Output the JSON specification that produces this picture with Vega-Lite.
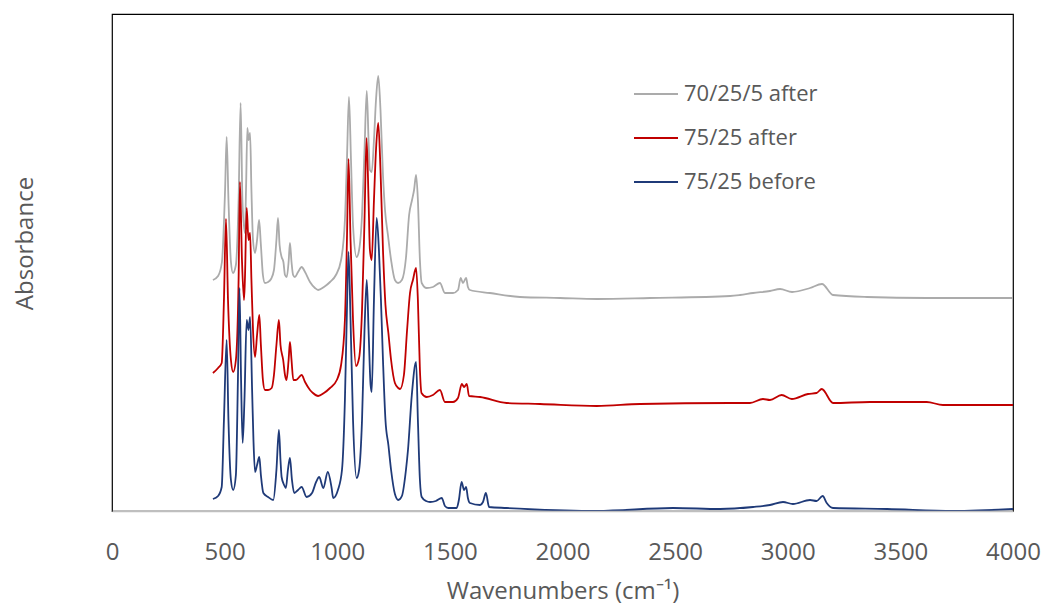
{
  "$schema": "https://vega.github.io/schema/vega-lite/v6.json",
  "width": 901,
  "height": 497,
  "autosize": {"type": "none"},
  "padding": {"left": 112, "top": 14, "right": 32, "bottom": 93},
  "background": "white",
  "config": {"view": {"stroke": "#000000", "strokeWidth": 1.2}, "font": "Open Sans"},
  "data": {"values": [
    {"s":"70/25/5 after","wn":448,"a":2.31},{"s":"70/25/5 after","wn":471,"a":2.35},{"s":"70/25/5 after","wn":488,"a":2.49},{"s":"70/25/5 after","wn":502,"a":3.21},{"s":"70/25/5 after","wn":509,"a":3.74},{"s":"70/25/5 after","wn":517,"a":3.11},{"s":"70/25/5 after","wn":528,"a":2.49},{"s":"70/25/5 after","wn":537,"a":2.38},{"s":"70/25/5 after","wn":550,"a":2.46},{"s":"70/25/5 after","wn":562,"a":3.11},{"s":"70/25/5 after","wn":571,"a":4.08},{"s":"70/25/5 after","wn":579,"a":3.11},{"s":"70/25/5 after","wn":590,"a":2.78},{"s":"70/25/5 after","wn":595,"a":3.21},{"s":"70/25/5 after","wn":601,"a":3.83},{"s":"70/25/5 after","wn":606,"a":3.71},{"s":"70/25/5 after","wn":613,"a":3.78},{"s":"70/25/5 after","wn":619,"a":3.21},{"s":"70/25/5 after","wn":626,"a":2.71},{"s":"70/25/5 after","wn":635,"a":2.58},{"s":"70/25/5 after","wn":644,"a":2.71},{"s":"70/25/5 after","wn":653,"a":2.91},{"s":"70/25/5 after","wn":661,"a":2.66},{"s":"70/25/5 after","wn":670,"a":2.36},{"s":"70/25/5 after","wn":679,"a":2.28},{"s":"70/25/5 after","wn":693,"a":2.29},{"s":"70/25/5 after","wn":706,"a":2.32},{"s":"70/25/5 after","wn":719,"a":2.41},{"s":"70/25/5 after","wn":730,"a":2.71},{"s":"70/25/5 after","wn":737,"a":2.93},{"s":"70/25/5 after","wn":744,"a":2.66},{"s":"70/25/5 after","wn":753,"a":2.54},{"s":"70/25/5 after","wn":761,"a":2.49},{"s":"70/25/5 after","wn":768,"a":2.36},{"s":"70/25/5 after","wn":776,"a":2.34},{"s":"70/25/5 after","wn":784,"a":2.49},{"s":"70/25/5 after","wn":790,"a":2.68},{"s":"70/25/5 after","wn":797,"a":2.49},{"s":"70/25/5 after","wn":804,"a":2.36},{"s":"70/25/5 after","wn":812,"a":2.34},{"s":"70/25/5 after","wn":826,"a":2.39},{"s":"70/25/5 after","wn":842,"a":2.44},{"s":"70/25/5 after","wn":857,"a":2.39},{"s":"70/25/5 after","wn":879,"a":2.29},{"s":"70/25/5 after","wn":901,"a":2.23},{"s":"70/25/5 after","wn":915,"a":2.21},{"s":"70/25/5 after","wn":941,"a":2.24},{"s":"70/25/5 after","wn":968,"a":2.29},{"s":"70/25/5 after","wn":994,"a":2.36},{"s":"70/25/5 after","wn":1017,"a":2.51},{"s":"70/25/5 after","wn":1034,"a":2.91},{"s":"70/25/5 after","wn":1043,"a":3.51},{"s":"70/25/5 after","wn":1052,"a":4.14},{"s":"70/25/5 after","wn":1061,"a":3.51},{"s":"70/25/5 after","wn":1070,"a":2.86},{"s":"70/25/5 after","wn":1086,"a":2.54},{"s":"70/25/5 after","wn":1097,"a":2.61},{"s":"70/25/5 after","wn":1110,"a":2.96},{"s":"70/25/5 after","wn":1121,"a":3.61},{"s":"70/25/5 after","wn":1131,"a":4.20},{"s":"70/25/5 after","wn":1139,"a":3.71},{"s":"70/25/5 after","wn":1145,"a":3.41},{"s":"70/25/5 after","wn":1153,"a":3.39},{"s":"70/25/5 after","wn":1163,"a":3.71},{"s":"70/25/5 after","wn":1172,"a":4.11},{"s":"70/25/5 after","wn":1182,"a":4.35},{"s":"70/25/5 after","wn":1192,"a":4.01},{"s":"70/25/5 after","wn":1203,"a":3.36},{"s":"70/25/5 after","wn":1212,"a":3.01},{"s":"70/25/5 after","wn":1225,"a":2.76},{"s":"70/25/5 after","wn":1239,"a":2.51},{"s":"70/25/5 after","wn":1256,"a":2.31},{"s":"70/25/5 after","wn":1270,"a":2.28},{"s":"70/25/5 after","wn":1287,"a":2.31},{"s":"70/25/5 after","wn":1305,"a":2.53},{"s":"70/25/5 after","wn":1319,"a":2.96},{"s":"70/25/5 after","wn":1332,"a":3.11},{"s":"70/25/5 after","wn":1341,"a":3.21},{"s":"70/25/5 after","wn":1350,"a":3.36},{"s":"70/25/5 after","wn":1358,"a":3.11},{"s":"70/25/5 after","wn":1367,"a":2.51},{"s":"70/25/5 after","wn":1375,"a":2.28},{"s":"70/25/5 after","wn":1397,"a":2.23},{"s":"70/25/5 after","wn":1425,"a":2.24},{"s":"70/25/5 after","wn":1456,"a":2.28},{"s":"70/25/5 after","wn":1478,"a":2.18},{"s":"70/25/5 after","wn":1514,"a":2.18},{"s":"70/25/5 after","wn":1536,"a":2.21},{"s":"70/25/5 after","wn":1548,"a":2.33},{"s":"70/25/5 after","wn":1558,"a":2.28},{"s":"70/25/5 after","wn":1572,"a":2.33},{"s":"70/25/5 after","wn":1580,"a":2.24},{"s":"70/25/5 after","wn":1589,"a":2.21},{"s":"70/25/5 after","wn":1678,"a":2.18},{"s":"70/25/5 after","wn":1811,"a":2.14},{"s":"70/25/5 after","wn":1989,"a":2.13},{"s":"70/25/5 after","wn":2153,"a":2.12},{"s":"70/25/5 after","wn":2388,"a":2.13},{"s":"70/25/5 after","wn":2744,"a":2.15},{"s":"70/25/5 after","wn":2788,"a":2.16},{"s":"70/25/5 after","wn":2846,"a":2.18},{"s":"70/25/5 after","wn":2921,"a":2.20},{"s":"70/25/5 after","wn":2966,"a":2.22},{"s":"70/25/5 after","wn":3019,"a":2.19},{"s":"70/25/5 after","wn":3099,"a":2.23},{"s":"70/25/5 after","wn":3152,"a":2.27},{"s":"70/25/5 after","wn":3201,"a":2.16},{"s":"70/25/5 after","wn":3352,"a":2.14},{"s":"70/25/5 after","wn":3618,"a":2.13},{"s":"70/25/5 after","wn":4000,"a":2.13},
    {"s":"75/25 after","wn":448,"a":1.38},{"s":"75/25 after","wn":471,"a":1.43},{"s":"75/25 after","wn":487,"a":1.48},{"s":"75/25 after","wn":497,"a":2.11},{"s":"75/25 after","wn":506,"a":2.92},{"s":"75/25 after","wn":515,"a":2.11},{"s":"75/25 after","wn":528,"a":1.51},{"s":"75/25 after","wn":538,"a":1.39},{"s":"75/25 after","wn":550,"a":1.51},{"s":"75/25 after","wn":562,"a":2.31},{"s":"75/25 after","wn":568,"a":3.29},{"s":"75/25 after","wn":577,"a":2.51},{"s":"75/25 after","wn":586,"a":2.11},{"s":"75/25 after","wn":590,"a":2.31},{"s":"75/25 after","wn":598,"a":3.03},{"s":"75/25 after","wn":606,"a":2.71},{"s":"75/25 after","wn":613,"a":2.78},{"s":"75/25 after","wn":619,"a":2.31},{"s":"75/25 after","wn":626,"a":1.81},{"s":"75/25 after","wn":635,"a":1.54},{"s":"75/25 after","wn":644,"a":1.76},{"s":"75/25 after","wn":654,"a":1.96},{"s":"75/25 after","wn":661,"a":1.66},{"s":"75/25 after","wn":670,"a":1.31},{"s":"75/25 after","wn":679,"a":1.21},{"s":"75/25 after","wn":693,"a":1.21},{"s":"75/25 after","wn":709,"a":1.23},{"s":"75/25 after","wn":719,"a":1.36},{"s":"75/25 after","wn":730,"a":1.66},{"s":"75/25 after","wn":741,"a":1.91},{"s":"75/25 after","wn":748,"a":1.66},{"s":"75/25 after","wn":760,"a":1.51},{"s":"75/25 after","wn":768,"a":1.36},{"s":"75/25 after","wn":775,"a":1.31},{"s":"75/25 after","wn":784,"a":1.51},{"s":"75/25 after","wn":790,"a":1.69},{"s":"75/25 after","wn":797,"a":1.51},{"s":"75/25 after","wn":805,"a":1.31},{"s":"75/25 after","wn":817,"a":1.31},{"s":"75/25 after","wn":842,"a":1.36},{"s":"75/25 after","wn":857,"a":1.29},{"s":"75/25 after","wn":879,"a":1.21},{"s":"75/25 after","wn":892,"a":1.18},{"s":"75/25 after","wn":915,"a":1.15},{"s":"75/25 after","wn":941,"a":1.18},{"s":"75/25 after","wn":968,"a":1.23},{"s":"75/25 after","wn":998,"a":1.31},{"s":"75/25 after","wn":1017,"a":1.46},{"s":"75/25 after","wn":1034,"a":1.91},{"s":"75/25 after","wn":1043,"a":2.71},{"s":"75/25 after","wn":1050,"a":3.52},{"s":"75/25 after","wn":1059,"a":2.71},{"s":"75/25 after","wn":1070,"a":1.91},{"s":"75/25 after","wn":1083,"a":1.45},{"s":"75/25 after","wn":1097,"a":1.53},{"s":"75/25 after","wn":1110,"a":2.01},{"s":"75/25 after","wn":1121,"a":2.91},{"s":"75/25 after","wn":1130,"a":3.73},{"s":"75/25 after","wn":1139,"a":3.11},{"s":"75/25 after","wn":1145,"a":2.61},{"s":"75/25 after","wn":1153,"a":2.51},{"s":"75/25 after","wn":1163,"a":3.11},{"s":"75/25 after","wn":1172,"a":3.61},{"s":"75/25 after","wn":1182,"a":3.88},{"s":"75/25 after","wn":1192,"a":3.41},{"s":"75/25 after","wn":1203,"a":2.61},{"s":"75/25 after","wn":1214,"a":2.06},{"s":"75/25 after","wn":1227,"a":1.78},{"s":"75/25 after","wn":1239,"a":1.51},{"s":"75/25 after","wn":1256,"a":1.28},{"s":"75/25 after","wn":1271,"a":1.23},{"s":"75/25 after","wn":1279,"a":1.22},{"s":"75/25 after","wn":1296,"a":1.36},{"s":"75/25 after","wn":1310,"a":1.81},{"s":"75/25 after","wn":1323,"a":2.18},{"s":"75/25 after","wn":1336,"a":2.31},{"s":"75/25 after","wn":1350,"a":2.43},{"s":"75/25 after","wn":1358,"a":2.11},{"s":"75/25 after","wn":1367,"a":1.41},{"s":"75/25 after","wn":1374,"a":1.18},{"s":"75/25 after","wn":1397,"a":1.14},{"s":"75/25 after","wn":1425,"a":1.16},{"s":"75/25 after","wn":1456,"a":1.21},{"s":"75/25 after","wn":1478,"a":1.09},{"s":"75/25 after","wn":1514,"a":1.09},{"s":"75/25 after","wn":1536,"a":1.13},{"s":"75/25 after","wn":1553,"a":1.27},{"s":"75/25 after","wn":1563,"a":1.24},{"s":"75/25 after","wn":1575,"a":1.27},{"s":"75/25 after","wn":1585,"a":1.15},{"s":"75/25 after","wn":1634,"a":1.14},{"s":"75/25 after","wn":1752,"a":1.08},{"s":"75/25 after","wn":1900,"a":1.07},{"s":"75/25 after","wn":2152,"a":1.05},{"s":"75/25 after","wn":2344,"a":1.07},{"s":"75/25 after","wn":2744,"a":1.08},{"s":"75/25 after","wn":2832,"a":1.08},{"s":"75/25 after","wn":2890,"a":1.12},{"s":"75/25 after","wn":2921,"a":1.11},{"s":"75/25 after","wn":2973,"a":1.16},{"s":"75/25 after","wn":3018,"a":1.12},{"s":"75/25 after","wn":3090,"a":1.17},{"s":"75/25 after","wn":3128,"a":1.18},{"s":"75/25 after","wn":3151,"a":1.22},{"s":"75/25 after","wn":3201,"a":1.08},{"s":"75/25 after","wn":3365,"a":1.09},{"s":"75/25 after","wn":3617,"a":1.09},{"s":"75/25 after","wn":3689,"a":1.06},{"s":"75/25 after","wn":4000,"a":1.06},
    {"s":"75/25 before","wn":448,"a":0.12},{"s":"75/25 before","wn":471,"a":0.15},{"s":"75/25 before","wn":487,"a":0.24},{"s":"75/25 before","wn":497,"a":0.91},{"s":"75/25 before","wn":509,"a":1.71},{"s":"75/25 before","wn":517,"a":0.91},{"s":"75/25 before","wn":528,"a":0.31},{"s":"75/25 before","wn":538,"a":0.21},{"s":"75/25 before","wn":550,"a":0.36},{"s":"75/25 before","wn":559,"a":1.31},{"s":"75/25 before","wn":566,"a":2.23},{"s":"75/25 before","wn":573,"a":1.31},{"s":"75/25 before","wn":580,"a":0.68},{"s":"75/25 before","wn":588,"a":1.11},{"s":"75/25 before","wn":598,"a":1.91},{"s":"75/25 before","wn":606,"a":1.81},{"s":"75/25 before","wn":613,"a":1.94},{"s":"75/25 before","wn":622,"a":1.21},{"s":"75/25 before","wn":628,"a":0.71},{"s":"75/25 before","wn":635,"a":0.39},{"s":"75/25 before","wn":644,"a":0.46},{"s":"75/25 before","wn":654,"a":0.54},{"s":"75/25 before","wn":661,"a":0.36},{"s":"75/25 before","wn":672,"a":0.18},{"s":"75/25 before","wn":693,"a":0.14},{"s":"75/25 before","wn":716,"a":0.11},{"s":"75/25 before","wn":730,"a":0.41},{"s":"75/25 before","wn":741,"a":0.81},{"s":"75/25 before","wn":748,"a":0.51},{"s":"75/25 before","wn":753,"a":0.34},{"s":"75/25 before","wn":764,"a":0.26},{"s":"75/25 before","wn":772,"a":0.23},{"s":"75/25 before","wn":781,"a":0.41},{"s":"75/25 before","wn":790,"a":0.53},{"s":"75/25 before","wn":799,"a":0.31},{"s":"75/25 before","wn":809,"a":0.18},{"s":"75/25 before","wn":826,"a":0.21},{"s":"75/25 before","wn":842,"a":0.24},{"s":"75/25 before","wn":864,"a":0.14},{"s":"75/25 before","wn":888,"a":0.18},{"s":"75/25 before","wn":906,"a":0.29},{"s":"75/25 before","wn":920,"a":0.34},{"s":"75/25 before","wn":938,"a":0.23},{"s":"75/25 before","wn":958,"a":0.39},{"s":"75/25 before","wn":975,"a":0.23},{"s":"75/25 before","wn":982,"a":0.13},{"s":"75/25 before","wn":1003,"a":0.21},{"s":"75/25 before","wn":1021,"a":0.41},{"s":"75/25 before","wn":1034,"a":1.11},{"s":"75/25 before","wn":1043,"a":2.01},{"s":"75/25 before","wn":1050,"a":2.59},{"s":"75/25 before","wn":1059,"a":1.91},{"s":"75/25 before","wn":1070,"a":0.91},{"s":"75/25 before","wn":1086,"a":0.33},{"s":"75/25 before","wn":1097,"a":0.41},{"s":"75/25 before","wn":1110,"a":0.91},{"s":"75/25 before","wn":1121,"a":1.81},{"s":"75/25 before","wn":1131,"a":2.31},{"s":"75/25 before","wn":1139,"a":1.81},{"s":"75/25 before","wn":1148,"a":1.26},{"s":"75/25 before","wn":1153,"a":1.19},{"s":"75/25 before","wn":1163,"a":2.11},{"s":"75/25 before","wn":1175,"a":2.93},{"s":"75/25 before","wn":1185,"a":2.61},{"s":"75/25 before","wn":1194,"a":2.11},{"s":"75/25 before","wn":1203,"a":1.51},{"s":"75/25 before","wn":1214,"a":0.91},{"s":"75/25 before","wn":1227,"a":0.66},{"s":"75/25 before","wn":1239,"a":0.41},{"s":"75/25 before","wn":1256,"a":0.17},{"s":"75/25 before","wn":1271,"a":0.11},{"s":"75/25 before","wn":1287,"a":0.15},{"s":"75/25 before","wn":1305,"a":0.41},{"s":"75/25 before","wn":1314,"a":0.61},{"s":"75/25 before","wn":1331,"a":1.16},{"s":"75/25 before","wn":1350,"a":1.49},{"s":"75/25 before","wn":1358,"a":0.91},{"s":"75/25 before","wn":1367,"a":0.31},{"s":"75/25 before","wn":1375,"a":0.14},{"s":"75/25 before","wn":1394,"a":0.10},{"s":"75/25 before","wn":1412,"a":0.09},{"s":"75/25 before","wn":1438,"a":0.10},{"s":"75/25 before","wn":1464,"a":0.13},{"s":"75/25 before","wn":1478,"a":0.05},{"s":"75/25 before","wn":1493,"a":0.03},{"s":"75/25 before","wn":1530,"a":0.03},{"s":"75/25 before","wn":1540,"a":0.11},{"s":"75/25 before","wn":1552,"a":0.29},{"s":"75/25 before","wn":1563,"a":0.21},{"s":"75/25 before","wn":1572,"a":0.24},{"s":"75/25 before","wn":1580,"a":0.13},{"s":"75/25 before","wn":1589,"a":0.08},{"s":"75/25 before","wn":1634,"a":0.06},{"s":"75/25 before","wn":1647,"a":0.09},{"s":"75/25 before","wn":1660,"a":0.18},{"s":"75/25 before","wn":1674,"a":0.04},{"s":"75/25 before","wn":1752,"a":0.03},{"s":"75/25 before","wn":2152,"a":0.00},{"s":"75/25 before","wn":2491,"a":0.03},{"s":"75/25 before","wn":2700,"a":0.02},{"s":"75/25 before","wn":2846,"a":0.04},{"s":"75/25 before","wn":2921,"a":0.06},{"s":"75/25 before","wn":2979,"a":0.09},{"s":"75/25 before","wn":3023,"a":0.07},{"s":"75/25 before","wn":3099,"a":0.11},{"s":"75/25 before","wn":3128,"a":0.10},{"s":"75/25 before","wn":3155,"a":0.15},{"s":"75/25 before","wn":3173,"a":0.08},{"s":"75/25 before","wn":3201,"a":0.03},{"s":"75/25 before","wn":3441,"a":0.02},{"s":"75/25 before","wn":3734,"a":0.00},{"s":"75/25 before","wn":4000,"a":0.02}
  ]},
  "mark": {"type": "line", "strokeWidth": 1.8, "clip": true, "interpolate": "monotone"},
  "encoding": {
    "x": {
      "field": "wn", "type": "quantitative",
      "scale": {"domain": [0, 4000], "nice": false},
      "axis": {
        "values": [0, 500, 1000, 1500, 2000, 2500, 3000, 3500, 4000],
        "format": "d",
        "title": "Wavenumbers (cm⁻¹)",
        "grid": false, "ticks": false, "tickSize": 0,
        "domainColor": "#BFBFBF", "domainWidth": 1.5,
        "labelFont": "Open Sans", "labelFontSize": 24, "labelColor": "#595959",
        "labelPadding": 29, "labelFlush": false, "labelOverlap": false,
        "titleFont": "Open Sans", "titleFontSize": 24, "titleFontWeight": "normal", "titleColor": "#595959",
        "titleX": 450.5, "titleY": 87, "titleBaseline": "alphabetic", "titleAlign": "center",
        "zindex": 1
      }
    },
    "y": {
      "field": "a", "type": "quantitative",
      "scale": {"domain": [0, 4.97], "nice": false, "zero": false},
      "axis": {
        "title": "Absorbance", "labels": false, "ticks": false, "domain": false, "grid": false,
        "titleFont": "Open Sans", "titleFontSize": 24, "titleFontWeight": "normal", "titleColor": "#595959",
        "titleX": -80, "titleY": 229, "titleAngle": -90, "titleBaseline": "alphabetic", "titleAlign": "center"
      }
    },
    "color": {
      "field": "s", "type": "nominal",
      "scale": {"domain": ["70/25/5 after", "75/25 after", "75/25 before"], "range": ["#ABABAB", "#C00000", "#1F3A78"]},
      "legend": {
        "title": null, "orient": "none", "legendX": 521, "legendY": 57, "direction": "vertical",
        "symbolType": "stroke", "symbolSize": 1936, "symbolStrokeWidth": 2,
        "labelFont": "Open Sans", "labelFontSize": 22, "labelColor": "#595959",
        "labelOffset": 5, "rowPadding": 10, "padding": 0, "labelLimit": 300
      }
    }
  }
}
